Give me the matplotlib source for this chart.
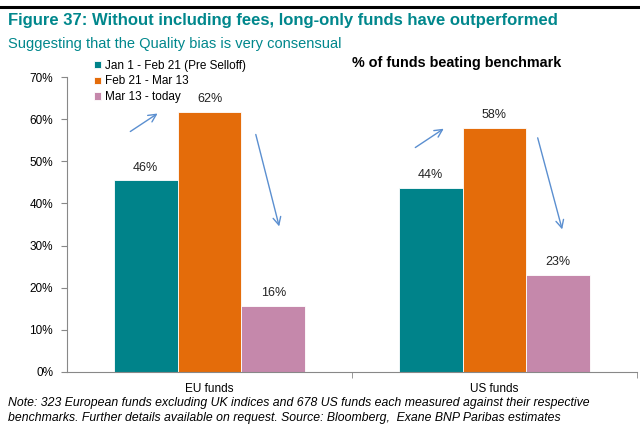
import matplotlib
matplotlib.use("Agg")
import matplotlib.pyplot as plt
import numpy as np

plt.rcParams['font.family'] = ['Liberation Sans', 'DejaVu Sans']

# data
categories = ['EU funds', 'US funds']
series_names = ['Jan 1 - Feb 21 (Pre Selloff)', 'Feb 21 - Mar 13', 'Mar 13 - today']
pre_selloff = [45.5, 43.7]
feb_mar = [61.7, 58.0]
mar_today = [15.7, 23.0]
bar_labels = [['46%', '44%'], ['62%', '58%'], ['16%', '23%']]
y_ticks = [0, 10, 20, 30, 40, 50, 60, 70]

colors = ['#00838A', '#E46C0A', '#C588AB']
teal = '#00878C'
arrow_col = '#5B8FD0'

fig = plt.figure(figsize=(6.4, 4.45), dpi=100)
ax = fig.add_axes([67 / 640, 1 - 372 / 445, 570 / 640, 295 / 445])

x = np.arange(len(categories))
w = 0.224
series = [pre_selloff, feb_mar, mar_today]
for i, vals in enumerate(series):
    bars = ax.bar(x + (i - 1) * w, vals, w, color=colors[i], label=series_names[i],
                  edgecolor='white', linewidth=0.6)
    for b, lab in zip(bars, bar_labels[i]):
        ax.text(b.get_x() + b.get_width() / 2, b.get_height() + 1.6, lab,
                ha='center', va='bottom', fontsize=9, color='#222222')

ax.set_xlim(-0.5, 1.5)
ax.set_ylim(0, 70)
ax.set_yticks(y_ticks)
ax.set_yticklabels([f'{t}%' for t in y_ticks], fontsize=8.5)
ax.set_xticks(x)
ax.set_xticklabels(categories, fontsize=8.5)
ax.tick_params(axis='x', length=0, pad=8)
ax.set_xticks([0.5, 1.5], minor=True)
ax.tick_params(axis='x', which='minor', length=4, color='#888888')
ax.tick_params(axis='y', length=4, color='#888888', pad=6)
for s in ['top', 'right']:
    ax.spines[s].set_visible(False)
for s in ['left', 'bottom']:
    ax.spines[s].set_color('#888888')
    ax.spines[s].set_linewidth(0.8)

# trend arrows
arrows = [((-0.286, 56.7), (-0.174, 61.7)),
          ((0.160, 57.0), (0.247, 33.9)),
          ((0.714, 52.9), (0.830, 58.1)),
          ((1.149, 56.2), (1.240, 33.2))]
for start, end in arrows:
    ax.annotate('', xy=end, xytext=start,
                arrowprops=dict(arrowstyle='->', color=arrow_col, lw=1.0,
                                mutation_scale=14))

leg = ax.legend(loc='upper left', bbox_to_anchor=(88 / 640, 1 - 54 / 445),
                bbox_transform=fig.transFigure, frameon=False, fontsize=8.5,
                handlelength=0.6, handleheight=0.6, handletextpad=0.3,
                labelspacing=0.3, borderpad=0)

ax.text(352 / 640, 1 - 63 / 445, '% of funds beating benchmark', transform=fig.transFigure,
        ha='left', va='center', fontsize=10.4, fontweight='bold')

# header
fig.add_artist(plt.Line2D([0, 1], [1 - 7 / 445, 1 - 7 / 445], color='black', lw=2.2,
                          transform=fig.transFigure))
fig.text(8 / 640, 1 - 21 / 445, 'Figure 37: Without including fees, long-only funds have outperformed',
         ha='left', va='center', fontsize=12, fontweight='bold', color=teal)
fig.text(8 / 640, 1 - 44 / 445, 'Suggesting that the Quality bias is very consensual',
         ha='left', va='center', fontsize=10.5, color=teal)

fig.text(8 / 640, 1 - 403 / 445,
         'Note: 323 European funds excluding UK indices and 678 US funds each measured against their respective',
         ha='left', va='center', fontsize=8.8, style='italic')
fig.text(8 / 640, 1 - 418 / 445,
         'benchmarks. Further details available on request. Source: Bloomberg,  Exane BNP Paribas estimates',
         ha='left', va='center', fontsize=8.8, style='italic')

fig.savefig('out.png', dpi=100, facecolor='white')
